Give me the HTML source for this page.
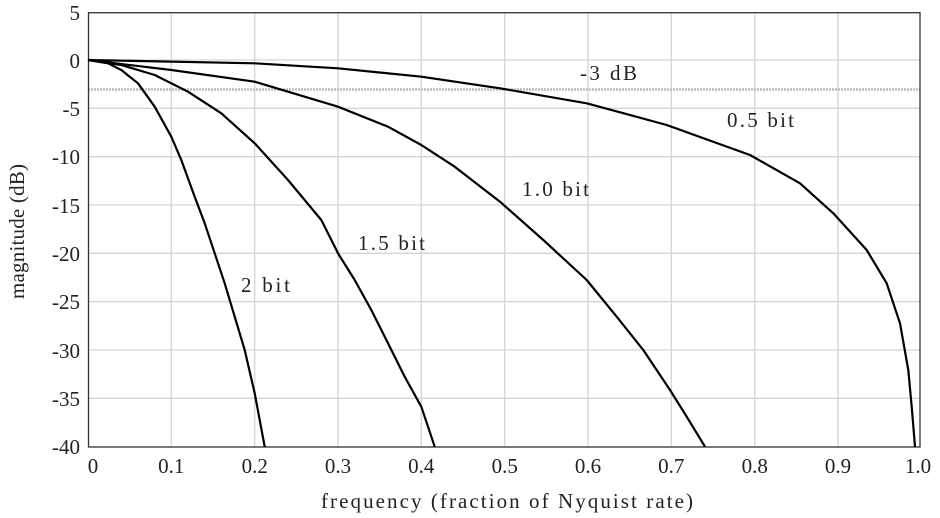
<!DOCTYPE html>
<html><head><style>body{margin:0;background:#fff}svg{display:block}text{font-family:"Liberation Serif",serif;fill:#222}</style></head><body>
<svg width="940" height="518" viewBox="0 0 940 518" xmlns="http://www.w3.org/2000/svg">
<g stroke="#d4d4d4" stroke-width="1.3">
<line x1="171.3" y1="12.7" x2="171.3" y2="447"/><line x1="254.7" y1="12.7" x2="254.7" y2="447"/><line x1="338" y1="12.7" x2="338" y2="447"/><line x1="421.3" y1="12.7" x2="421.3" y2="447"/><line x1="504.7" y1="12.7" x2="504.7" y2="447"/><line x1="588" y1="12.7" x2="588" y2="447"/><line x1="671.3" y1="12.7" x2="671.3" y2="447"/><line x1="754.7" y1="12.7" x2="754.7" y2="447"/><line x1="838" y1="12.7" x2="838" y2="447"/>
<line x1="88" y1="60" x2="920" y2="60"/><line x1="88" y1="108.3" x2="920" y2="108.3"/><line x1="88" y1="156.7" x2="920" y2="156.7"/><line x1="88" y1="205" x2="920" y2="205"/><line x1="88" y1="253.3" x2="920" y2="253.3"/><line x1="88" y1="301.7" x2="920" y2="301.7"/><line x1="88" y1="350" x2="920" y2="350"/><line x1="88" y1="398.3" x2="920" y2="398.3"/>
</g>
<line x1="88" y1="89.5" x2="920" y2="89.5" stroke="#bbb" stroke-width="2.5" stroke-dasharray="2,1"/>
<rect x="88.5" y="12.7" width="831.5" height="434.3" fill="none" stroke="#333" stroke-width="1.3"/>
<g fill="none" stroke="#000" stroke-width="2.2" stroke-linejoin="round">
<polyline points="88,60 108,63.3 121.3,70 138,83.3 154.7,106.7 171.3,136.7 181.3,160 194.7,196.7 204.7,223.3 214.7,253.3 224.7,283.3 234.7,316.7 244.7,350 254.7,393.3 264.7,446.7"/>
<polyline points="88,60 121.3,65 154.7,75 188,91.7 221.3,113.3 254.7,143.3 288,180 321.3,220 338,253.3 354.7,280 371.3,310 388,343.3 404.7,376.7 421.3,406.7 434.7,446.7"/>
<polyline points="88,60 171.3,70 254.7,81.7 288,91.7 338,106.7 388,126.7 421.3,145 454.7,166.7 500,201.7 543.3,240 586.7,280 616.7,316.7 643.3,350 670,390 686.7,416.7 705,446.7"/>
<polyline points="88,60 254.7,63.3 338,68.3 421.3,76.7 500,88.3 586.7,103.3 666.7,125 750,155 800,183.3 833.3,213.3 866.7,250 886.7,283.3 900,323.3 908.3,370 911.7,406.7 915,446.7"/>
</g>
<g font-size="21">
<text x="580" y="80" textLength="57">-3 dB</text>
<text x="727" y="127" textLength="67">0.5 bit</text>
<text x="522" y="196" textLength="67">1.0 bit</text>
<text x="358" y="250" textLength="67">1.5 bit</text>
<text x="241" y="292" textLength="49">2 bit</text>
</g>
<g font-size="21" text-anchor="end">
<text x="80" y="20">5</text><text x="80" y="68">0</text><text x="80" y="116">-5</text><text x="80" y="164">-10</text><text x="80" y="213">-15</text><text x="80" y="261">-20</text><text x="80" y="309">-25</text><text x="80" y="358">-30</text><text x="80" y="406">-35</text><text x="80" y="454">-40</text>
</g>
<g font-size="21" text-anchor="middle">
<text x="93" y="473">0</text><text x="171.3" y="473">0.1</text><text x="254.7" y="473">0.2</text><text x="338" y="473">0.3</text><text x="421.3" y="473">0.4</text><text x="504.7" y="473">0.5</text><text x="588" y="473">0.6</text><text x="671.3" y="473">0.7</text><text x="754.7" y="473">0.8</text><text x="838" y="473">0.9</text><text x="918" y="473">1.0</text>
</g>
<g font-size="21">
<text x="321" y="508" textLength="372">frequency (fraction of Nyquist rate)</text>
<text transform="translate(24,299) rotate(-90)" textLength="135">magnitude (dB)</text>
</g>
</svg>
</body></html>
